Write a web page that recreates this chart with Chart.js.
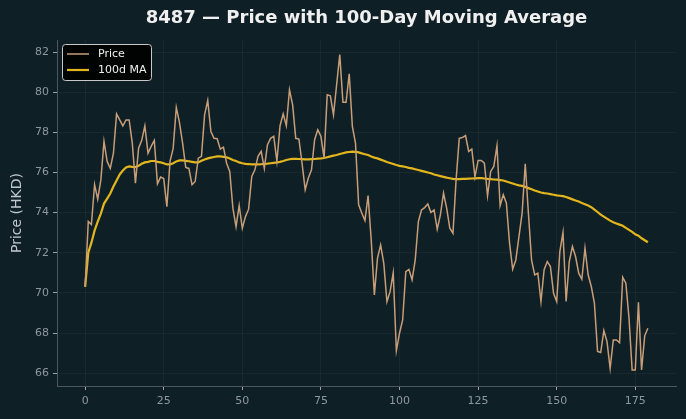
<!DOCTYPE html>
<html>
<head>
<meta charset="utf-8">
<script src="https://cdn.jsdelivr.net/npm/chart.js@4.4.1/dist/chart.umd.min.js"></script>
<style>
  html, body { margin: 0; padding: 0; background: #0f1f26; }
  canvas { display: block; }
</style>
</head>
<body>
<canvas id="chart" width="686" height="419"></canvas>
<script>
// Daily closing price (HKD), day 0..179
const price = [
  70.32, 73.56, 73.40, 75.39, 74.67, 75.63, 77.55, 76.55, 76.20, 76.96,
  78.92, 78.62, 78.32, 78.62, 78.62, 77.46, 75.47, 77.21, 77.60, 78.32,
  76.96, 77.30, 77.60, 75.43, 75.77, 75.70, 74.30, 76.55, 77.20, 79.24,
  78.50, 77.46, 76.25, 76.20, 75.39, 75.55, 76.71, 76.80, 78.87, 79.59,
  78.04, 77.70, 77.68, 77.16, 77.26, 76.46, 76.05, 74.22, 73.30, 74.35,
  73.22, 73.80, 74.17, 75.80, 76.13, 76.80, 77.05, 76.20, 77.38, 77.70,
  77.80, 76.55, 78.33, 78.92, 78.33, 80.12, 79.37, 77.70, 77.66, 76.46,
  75.14, 75.72, 76.13, 77.63, 78.13, 77.80, 76.71, 79.87, 79.82, 78.87,
  80.37, 81.87, 79.50, 79.50, 80.92, 78.30, 77.46, 74.39, 73.98, 73.60,
  74.85, 72.64, 69.90, 71.73, 72.39, 71.47, 69.56, 70.06, 71.00, 67.12,
  67.99, 68.65, 71.06, 71.17, 70.65, 71.64, 73.55, 74.13, 74.25, 74.43,
  74.00, 74.13, 73.17, 73.89, 74.97, 74.22, 73.22, 72.97, 75.63, 77.70,
  77.74, 77.84, 77.05, 77.16, 75.77, 76.60, 76.60, 76.46, 74.84, 76.05,
  76.30, 77.33, 74.34, 74.89, 74.47, 72.48, 71.18, 71.64, 72.81, 73.97,
  76.43, 73.97, 71.64, 70.90, 70.98, 69.57, 71.15, 71.56, 71.31, 69.98,
  69.57, 72.06, 73.01, 69.57, 71.56, 72.31, 71.81, 70.98, 70.68, 72.23,
  70.90, 70.32, 69.48, 67.08, 67.03, 68.12, 67.57, 66.24, 67.65, 67.65,
  67.52, 70.78, 70.48, 68.74, 66.16, 66.16, 69.53, 66.16, 67.86, 68.24
];

// 100-day moving average
const ma100 = [
  70.30, 72.00, 72.50, 73.10, 73.55, 73.95, 74.45, 74.70, 74.95, 75.30,
  75.60, 75.90, 76.10, 76.25, 76.30, 76.28, 76.27, 76.33, 76.43, 76.50,
  76.53, 76.57, 76.57, 76.53, 76.50, 76.46, 76.40, 76.40, 76.46, 76.55,
  76.60, 76.60, 76.58, 76.56, 76.53, 76.50, 76.50, 76.58, 76.65, 76.70,
  76.74, 76.77, 76.80, 76.80, 76.78, 76.76, 76.70, 76.62, 76.57, 76.50,
  76.46, 76.43, 76.42, 76.40, 76.40, 76.40, 76.41, 76.43, 76.44, 76.46,
  76.48, 76.50, 76.53, 76.57, 76.62, 76.66, 76.68, 76.68, 76.67, 76.66,
  76.65, 76.65, 76.66, 76.67, 76.69, 76.70, 76.72, 76.76, 76.80, 76.84,
  76.87, 76.92, 76.96, 77.00, 77.02, 77.04, 77.03, 77.00, 76.95, 76.91,
  76.87, 76.80, 76.74, 76.70, 76.64, 76.58, 76.52, 76.47, 76.42, 76.37,
  76.33, 76.30, 76.27, 76.23, 76.20, 76.16, 76.12, 76.08, 76.04, 76.00,
  75.96, 75.90, 75.86, 75.82, 75.78, 75.74, 75.71, 75.68, 75.67, 75.67,
  75.68, 75.68, 75.69, 75.70, 75.71, 75.72, 75.72, 75.70, 75.68, 75.67,
  75.65, 75.64, 75.62, 75.60, 75.55, 75.50, 75.45, 75.40, 75.36, 75.33,
  75.28, 75.22, 75.16, 75.10, 75.05, 75.00, 74.97, 74.95, 74.92, 74.89,
  74.86, 74.84, 74.82, 74.78, 74.72, 74.66, 74.60, 74.55, 74.48, 74.42,
  74.35, 74.27, 74.15, 74.03, 73.90, 73.80, 73.70, 73.60, 73.52, 73.46,
  73.40, 73.34, 73.24, 73.14, 73.04, 72.92, 72.85, 72.72, 72.62, 72.52
];

const xTicks = [0, 25, 50, 75, 100, 125, 150, 175];
const yTicks = [66, 68, 70, 72, 74, 76, 78, 80, 82];
const titleText = '8487 — Price with 100-Day Moving Average';

const days = price.map((_, i) => i);
const toPoints = arr => arr.map((v, i) => ({ x: days[i], y: v }));

const FONT = "'DejaVu Sans', sans-serif";
const tickColor = '#8d989d';
const gridColor = 'rgba(255,255,255,0.045)';

// figure background + title centred over the plot, like matplotlib does
const frame = {
  id: 'frame',
  beforeDraw(chart) {
    const { ctx, width, height } = chart;
    ctx.save();
    ctx.fillStyle = '#0f1f26';
    ctx.fillRect(0, 0, width, height);
    ctx.restore();
  },
  afterDraw(chart) {
    const { ctx, chartArea } = chart;
    ctx.save();
    ctx.font = 'bold 18px ' + FONT;
    ctx.fillStyle = '#f0f0f0';
    ctx.textAlign = 'center';
    ctx.textBaseline = 'middle';
    ctx.fillText(titleText, (chartArea.left + chartArea.right) / 2, 18);
    ctx.restore();
  }
};

// matplotlib-like legend box in the upper left of the plot
const legendBox = {
  id: 'legendBox',
  afterDraw(chart) {
    const { ctx, chartArea } = chart;
    const x = chartArea.left + 5, y = chartArea.top + 4;
    const w = 89, h = 36;
    ctx.save();
    ctx.beginPath();
    ctx.roundRect(x + 0.5, y + 0.5, w, h, 3);
    ctx.fillStyle = 'rgba(0,0,0,0.9)';
    ctx.fill();
    ctx.strokeStyle = '#c8c8c8';
    ctx.lineWidth = 1;
    ctx.stroke();
    ctx.font = '11px ' + FONT;
    ctx.textBaseline = 'middle';
    chart.data.datasets.forEach((ds, i) => {
      const ly = y + 10 + i * 16;
      ctx.beginPath();
      ctx.moveTo(x + 5, ly);
      ctx.lineTo(x + 27, ly);
      ctx.strokeStyle = ds.borderColor;
      ctx.lineWidth = ds.borderWidth;
      ctx.stroke();
      ctx.fillStyle = '#f0f0f0';
      ctx.fillText(ds.label, x + 36, ly);
    });
    ctx.restore();
  }
};

new Chart(document.getElementById('chart'), {
  type: 'line',
  data: {
    datasets: [
      {
        label: 'Price',
        data: toPoints(price),
        borderColor: '#c79e78',
        borderWidth: 1.5,
        pointRadius: 0,
        tension: 0
      },
      {
        label: '100d MA',
        data: toPoints(ma100),
        borderColor: '#e2b61c',
        borderWidth: 2.2,
        pointRadius: 0,
        tension: 0
      }
    ]
  },
  options: {
    responsive: false,
    animation: false,
    layout: { padding: { left: 0, right: 10, top: 40, bottom: 0 } },
    scales: {
      x: {
        type: 'linear',
        min: -8.95,
        max: 187.95,
        afterBuildTicks: s => { s.ticks = xTicks.map(v => ({ value: v })); },
        afterFit: s => { s.height = 33; },
        ticks: { color: tickColor, font: { family: FONT, size: 11 }, padding: 5, maxRotation: 0 },
        grid: { color: gridColor, tickColor: '#9aa3a7', tickLength: 4 },
        border: { color: '#4b575c', width: 1 }
      },
      y: {
        min: 65.36,
        max: 82.6,
        afterBuildTicks: s => { s.ticks = yTicks.map(v => ({ value: v })); },
        afterFit: s => { s.width = 57; },
        ticks: { color: tickColor, font: { family: FONT, size: 11 }, padding: 4 },
        grid: { color: gridColor, tickColor: '#9aa3a7', tickLength: 4 },
        border: { color: '#4b575c', width: 1 },
        title: {
          display: true,
          text: 'Price (HKD)',
          color: '#bfc8cc',
          font: { family: FONT, size: 14 },
          padding: { top: 9, bottom: 0 }
        }
      }
    },
    plugins: {
      legend: { display: false },
      tooltip: { enabled: false },
      title: { display: false }
    }
  },
  plugins: [frame, legendBox]
});
</script>
</body>
</html>
